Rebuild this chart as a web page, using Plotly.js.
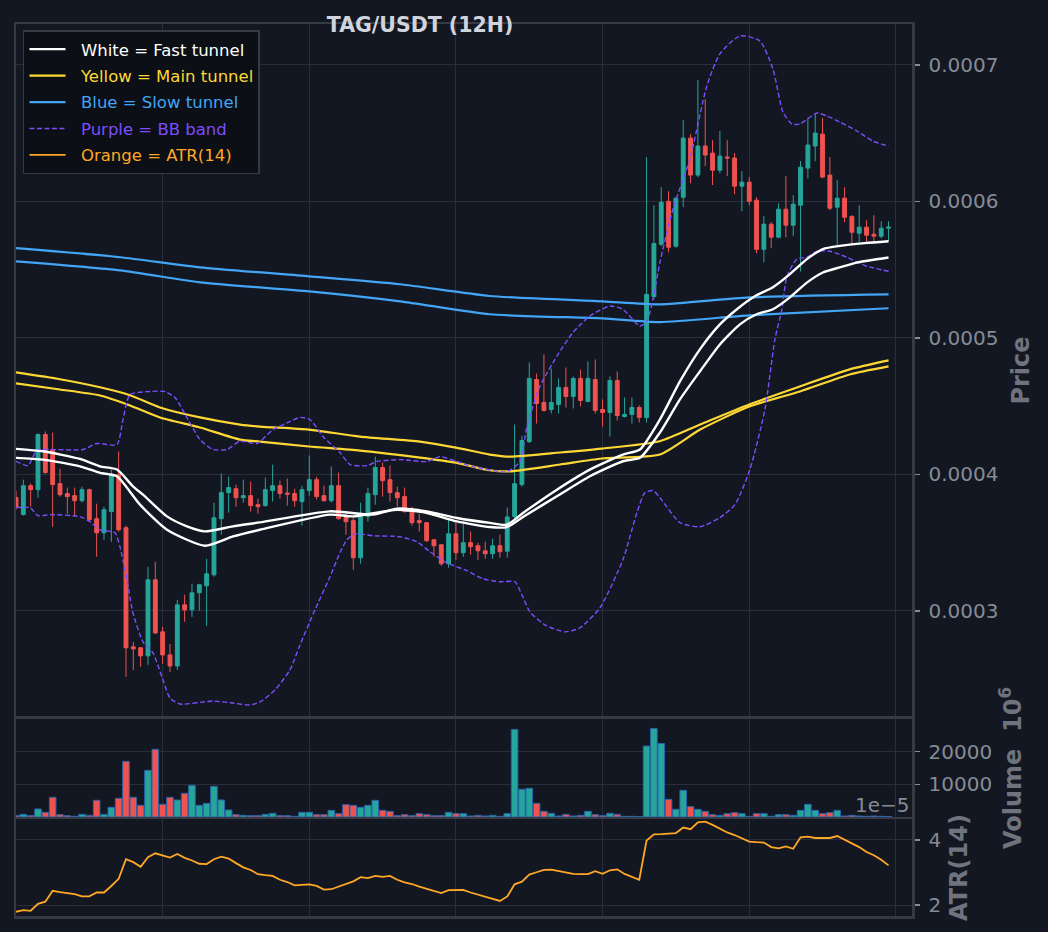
<!DOCTYPE html>
<html><head><meta charset="utf-8">
<script src="https://cdn.plot.ly/plotly-3.0.1.min.js"></script>
<style>html,body{margin:0;padding:0;background:#131722;}#chart{width:1048px;height:932px;}</style>
</head><body><div id="chart"></div>
<script>
// ---- candle data (index 0..119, 12H candles) ----
const candleIndex = Array.from({length:120}, (_, i) => i);
const open = [3.830e-4,3.706e-4,3.917e-4,3.888e-4,4.292e-4,4.182e-4,3.932e-4,3.859e-4,3.844e-4,3.807e-4,
3.888e-4,3.675e-4,3.572e-4,3.727e-4,3.998e-4,3.609e-4,2.736e-4,2.729e-4,2.670e-4,3.227e-4,
2.846e-4,2.677e-4,2.596e-4,3.044e-4,3.007e-4,3.132e-4,3.183e-4,3.264e-4,3.675e-4,3.866e-4,
3.895e-4,3.829e-4,3.844e-4,3.778e-4,3.771e-4,3.881e-4,3.917e-4,3.863e-4,3.859e-4,3.800e-4,
3.881e-4,3.961e-4,3.844e-4,3.807e-4,3.917e-4,3.683e-4,3.661e-4,3.389e-4,3.690e-4,3.851e-4,
4.050e-4,3.961e-4,3.866e-4,3.837e-4,3.734e-4,3.661e-4,3.646e-4,3.521e-4,3.484e-4,3.345e-4,
3.565e-4,3.426e-4,3.499e-4,3.477e-4,3.440e-4,3.418e-4,3.477e-4,3.437e-4,3.690e-4,3.925e-4,
4.240e-4,4.695e-4,4.527e-4,4.475e-4,4.512e-4,4.637e-4,4.571e-4,4.703e-4,4.534e-4,4.695e-4,
4.475e-4,4.453e-4,4.688e-4,4.424e-4,4.439e-4,4.490e-4,4.417e-4,5.303e-4,5.686e-4,6.001e-4,
5.672e-4,6.031e-4,6.464e-4,6.193e-4,6.406e-4,6.354e-4,6.229e-4,6.325e-4,6.318e-4,6.112e-4,
6.141e-4,6.009e-4,5.649e-4,5.833e-4,5.738e-4,5.943e-4,5.826e-4,5.972e-4,6.244e-4,6.406e-4,
6.493e-4,6.193e-4,5.958e-4,6.024e-4,5.890e-4,5.767e-4,5.811e-4,5.760e-4,5.745e-4,5.804e-4];
const high = [3.880e-4,3.961e-4,3.932e-4,4.300e-4,4.314e-4,4.306e-4,4.042e-4,3.903e-4,3.903e-4,3.910e-4,
3.895e-4,3.785e-4,3.763e-4,4.035e-4,4.167e-4,3.624e-4,2.772e-4,2.735e-4,3.322e-4,3.359e-4,
2.882e-4,2.757e-4,3.081e-4,3.118e-4,3.198e-4,3.198e-4,3.381e-4,3.792e-4,4.005e-4,3.983e-4,
3.925e-4,3.961e-4,3.947e-4,3.822e-4,3.976e-4,4.071e-4,3.954e-4,3.969e-4,3.895e-4,3.917e-4,
4.138e-4,3.983e-4,3.917e-4,4.057e-4,4.013e-4,3.705e-4,3.683e-4,3.793e-4,3.903e-4,4.130e-4,
4.086e-4,4.064e-4,3.910e-4,3.903e-4,3.763e-4,3.712e-4,3.650e-4,3.525e-4,3.488e-4,3.668e-4,
3.646e-4,3.653e-4,3.580e-4,3.499e-4,3.506e-4,3.528e-4,3.558e-4,3.756e-4,4.365e-4,4.284e-4,
4.820e-4,4.739e-4,4.879e-4,4.776e-4,4.703e-4,4.783e-4,4.717e-4,4.768e-4,4.827e-4,4.842e-4,
4.549e-4,4.717e-4,4.754e-4,4.563e-4,4.563e-4,4.505e-4,6.325e-4,5.972e-4,6.104e-4,6.075e-4,
6.031e-4,6.596e-4,6.493e-4,6.890e-4,6.750e-4,6.449e-4,6.516e-4,6.449e-4,6.354e-4,6.222e-4,
6.178e-4,6.031e-4,5.892e-4,5.848e-4,5.987e-4,6.185e-4,6.046e-4,6.295e-4,6.611e-4,6.640e-4,
6.611e-4,6.325e-4,6.156e-4,6.104e-4,5.899e-4,5.972e-4,5.862e-4,5.899e-4,5.855e-4,5.855e-4];
const low = [3.740e-4,3.697e-4,3.763e-4,3.829e-4,4.005e-4,3.616e-4,3.837e-4,3.712e-4,3.697e-4,3.793e-4,
3.653e-4,3.396e-4,3.521e-4,3.506e-4,3.580e-4,2.516e-4,2.567e-4,2.589e-4,2.604e-4,2.830e-4,
2.611e-4,2.552e-4,2.567e-4,2.919e-4,2.956e-4,3.000e-4,2.890e-4,3.250e-4,3.558e-4,3.719e-4,
3.763e-4,3.793e-4,3.727e-4,3.712e-4,3.763e-4,3.800e-4,3.822e-4,3.771e-4,3.763e-4,3.624e-4,
3.844e-4,3.815e-4,3.800e-4,3.793e-4,3.668e-4,3.558e-4,3.301e-4,3.345e-4,3.653e-4,3.778e-4,
3.837e-4,3.800e-4,3.763e-4,3.720e-4,3.624e-4,3.580e-4,3.506e-4,3.396e-4,3.330e-4,3.316e-4,
3.374e-4,3.396e-4,3.411e-4,3.374e-4,3.381e-4,3.381e-4,3.389e-4,3.389e-4,3.675e-4,3.910e-4,
4.230e-4,4.372e-4,4.460e-4,4.446e-4,4.446e-4,4.490e-4,4.483e-4,4.497e-4,4.527e-4,4.446e-4,
4.350e-4,4.277e-4,4.394e-4,4.417e-4,4.372e-4,4.380e-4,4.380e-4,5.282e-4,5.672e-4,5.627e-4,
5.660e-4,5.958e-4,6.134e-4,6.178e-4,6.259e-4,6.120e-4,6.207e-4,6.185e-4,6.053e-4,5.928e-4,
5.972e-4,5.620e-4,5.554e-4,5.657e-4,5.730e-4,5.738e-4,5.745e-4,5.486e-4,6.170e-4,6.295e-4,
6.170e-4,5.936e-4,5.677e-4,5.848e-4,5.686e-4,5.701e-4,5.694e-4,5.694e-4,5.730e-4,5.708e-4];
const close = [3.760e-4,3.917e-4,3.888e-4,4.292e-4,4.013e-4,3.925e-4,3.851e-4,3.837e-4,3.807e-4,3.888e-4,
3.668e-4,3.572e-4,3.741e-4,3.998e-4,3.594e-4,2.729e-4,2.721e-4,2.670e-4,3.227e-4,2.838e-4,
2.677e-4,2.596e-4,3.044e-4,3.007e-4,3.132e-4,3.191e-4,3.271e-4,3.682e-4,3.866e-4,3.903e-4,
3.829e-4,3.844e-4,3.771e-4,3.763e-4,3.888e-4,3.917e-4,3.859e-4,3.855e-4,3.807e-4,3.888e-4,
3.961e-4,3.837e-4,3.807e-4,3.917e-4,3.675e-4,3.653e-4,3.389e-4,3.690e-4,3.859e-4,4.050e-4,
3.954e-4,3.866e-4,3.829e-4,3.727e-4,3.646e-4,3.646e-4,3.514e-4,3.477e-4,3.345e-4,3.565e-4,
3.426e-4,3.499e-4,3.470e-4,3.440e-4,3.418e-4,3.477e-4,3.433e-4,3.688e-4,3.932e-4,4.248e-4,
4.703e-4,4.519e-4,4.468e-4,4.527e-4,4.637e-4,4.571e-4,4.703e-4,4.541e-4,4.703e-4,4.468e-4,
4.453e-4,4.688e-4,4.431e-4,4.439e-4,4.490e-4,4.417e-4,5.319e-4,5.692e-4,5.994e-4,5.664e-4,
6.024e-4,6.464e-4,6.193e-4,6.406e-4,6.340e-4,6.229e-4,6.332e-4,6.318e-4,6.112e-4,6.141e-4,
6.001e-4,5.649e-4,5.833e-4,5.738e-4,5.943e-4,5.826e-4,5.980e-4,6.251e-4,6.413e-4,6.501e-4,
6.178e-4,5.950e-4,6.024e-4,5.884e-4,5.774e-4,5.811e-4,5.752e-4,5.745e-4,5.804e-4,5.811e-4];

// volume, in units of 10^6 (as labelled on the axis)
const volumeE6 = [400,816,400,2450,1430,6020,714,400,200,816,
510,5100,816,2960,5710,17030,6020,3570,14280,20700,
3880,6020,5200,7240,9690,3570,4180,9380,5200,2140,
714,510,400,400,816,1120,400,400,200,1430,
1430,714,714,2040,1020,3770,3570,2960,3570,5100,
2040,1730,400,714,400,1020,714,400,400,1430,
1020,1020,300,510,300,510,200,1020,26800,8470,
8770,4180,1730,1120,300,816,300,510,1730,714,
400,1120,816,200,200,100,21700,27100,22500,5400,
2350,8160,3160,2350,1730,714,510,1020,1330,1020,
200,1020,1020,200,714,714,510,2040,3880,2040,
1020,1330,2040,300,510,300,200,300,200,150];

// ATR(14), in units of 1e-5 (as labelled on the axis)
const atrE5 = [1.80,1.85,1.83,2.04,2.11,2.44,2.40,2.37,2.34,2.27,
2.27,2.39,2.39,2.59,2.81,3.41,3.32,3.18,3.47,3.59,
3.53,3.46,3.57,3.45,3.37,3.27,3.26,3.41,3.49,3.43,
3.29,3.16,3.08,2.95,2.92,2.90,2.78,2.71,2.61,2.63,
2.64,2.59,2.48,2.49,2.57,2.65,2.73,2.86,2.83,2.90,
2.87,2.90,2.78,2.70,2.65,2.57,2.50,2.43,2.37,2.46,
2.47,2.47,2.39,2.32,2.26,2.19,2.13,2.27,2.64,2.72,
2.94,3.01,3.08,3.09,3.05,3.01,2.96,2.95,2.95,3.04,
2.96,3.07,3.10,2.96,2.88,2.78,3.98,4.17,4.18,4.19,
4.21,4.38,4.33,4.54,4.56,4.46,4.34,4.23,4.15,4.05,
3.95,3.93,3.92,3.78,3.74,3.80,3.73,4.08,4.10,4.06,
4.06,4.06,4.12,4.00,3.88,3.78,3.63,3.53,3.39,3.22];

// ---- tunnel lines (read at sample positions along the candle index) ----
const blueX = [0,14.2,25.1,40,52.4,64.6,80,87.8,100,119];
const blueUpper = [5.657e-4,5.591e-4,5.517e-4,5.451e-4,5.393e-4,5.307e-4,5.268e-4,5.246e-4,5.297e-4,5.319e-4];
const blueLower = [5.561e-4,5.495e-4,5.407e-4,5.341e-4,5.268e-4,5.173e-4,5.143e-4,5.116e-4,5.165e-4,5.217e-4];

const yellowX = [0,6,11.45,15.55,19.64,25.09,30.55,33.27,39.95,46.9,55.1,60,64.6,67.4,74.2,79.9,87.8,93.3,100,106.9,113.7,119];
const yellowUpper = [4.747e-4,4.697e-4,4.638e-4,4.580e-4,4.490e-4,4.417e-4,4.365e-4,4.350e-4,4.328e-4,4.277e-4,4.240e-4,4.196e-4,4.145e-4,4.130e-4,4.160e-4,4.189e-4,4.243e-4,4.365e-4,4.512e-4,4.644e-4,4.769e-4,4.835e-4];
const yellowLower = [4.666e-4,4.622e-4,4.578e-4,4.505e-4,4.417e-4,4.343e-4,4.255e-4,4.240e-4,4.204e-4,4.174e-4,4.123e-4,4.086e-4,4.030e-4,4.022e-4,4.072e-4,4.116e-4,4.145e-4,4.328e-4,4.497e-4,4.607e-4,4.732e-4,4.791e-4];

const whiteUpperX = [0,3.68,8.73,11.45,13.77,15.95,17.32,20.59,23.32,25.77,29.59,33.27,42.82,48.68,51.95,56.05,60.14,64.64,66.95,69.14,73.77,78.27,82.77,85.09,87.82,90.55,93.27,96.0,98.32,100.77,103.23,105.55,107.86,110.05,112.36,115.77,119];
const whiteUpper = [4.187e-4,4.169e-4,4.113e-4,4.059e-4,4.035e-4,3.912e-4,3.851e-4,3.692e-4,3.619e-4,3.582e-4,3.619e-4,3.648e-4,3.729e-4,3.705e-4,3.749e-4,3.729e-4,3.680e-4,3.644e-4,3.631e-4,3.717e-4,3.888e-4,4.035e-4,4.145e-4,4.182e-4,4.402e-4,4.681e-4,4.916e-4,5.099e-4,5.210e-4,5.305e-4,5.371e-4,5.467e-4,5.577e-4,5.651e-4,5.674e-4,5.694e-4,5.708e-4];
const whiteLowerX = [0,3.68,8.73,11.45,13.77,16.91,20.59,25.77,29.59,33.27,42.82,46.0,51.95,56.05,60.14,64.64,66.95,69.14,73.77,78.27,82.77,85.09,87.82,90.55,93.27,96.0,98.73,101.0,103.23,105.55,107.86,110.05,112.36,114.68,119];
const whiteLower = [4.121e-4,4.108e-4,4.059e-4,4.011e-4,3.986e-4,3.778e-4,3.594e-4,3.477e-4,3.545e-4,3.594e-4,3.705e-4,3.692e-4,3.741e-4,3.717e-4,3.655e-4,3.614e-4,3.614e-4,3.688e-4,3.839e-4,3.986e-4,4.096e-4,4.121e-4,4.306e-4,4.549e-4,4.754e-4,4.952e-4,5.099e-4,5.173e-4,5.210e-4,5.297e-4,5.405e-4,5.479e-4,5.517e-4,5.552e-4,5.589e-4];

// ---- Bollinger band ----
const bbUpperX = [0,1.64,2.86,4.64,9.14,11.05,13.77,14.59,15.55,18.27,20.32,21.68,23.46,25.09,26.86,28.77,30.55,32.86,35.05,37.36,38.73,40.09,41.86,44.18,45.55,47.86,49.23,52.36,56.05,57.82,60.14,62.32,66.96,68.73,69.68,71.46,73.77,75.96,78.27,81.0,82.77,85.09,86.05,86.87,87.82,89.59,91.91,94.23,96.0,98.73,101.45,103.23,104.6,105.82,106.91,109.23,110.59,112.36,114.68,116.86,119];
const bbUpper = [4.096e-4,4.064e-4,4.177e-4,4.182e-4,4.182e-4,4.226e-4,4.218e-4,4.402e-4,4.585e-4,4.607e-4,4.607e-4,4.563e-4,4.402e-4,4.255e-4,4.182e-4,4.182e-4,4.243e-4,4.226e-4,4.328e-4,4.387e-4,4.417e-4,4.402e-4,4.277e-4,4.160e-4,4.072e-4,4.064e-4,4.094e-4,4.108e-4,4.094e-4,4.130e-4,4.094e-4,4.057e-4,4.020e-4,4.096e-4,4.353e-4,4.646e-4,4.866e-4,5.040e-4,5.160e-4,5.233e-4,5.209e-4,5.087e-4,5.123e-4,5.283e-4,5.554e-4,5.943e-4,6.310e-4,6.848e-4,7.081e-4,7.213e-4,7.176e-4,6.971e-4,6.655e-4,6.567e-4,6.567e-4,6.648e-4,6.626e-4,6.582e-4,6.516e-4,6.442e-4,6.406e-4];
const bbLowerX = [0,1.91,3.0,4.64,8.73,10.09,11.45,13.5,14.18,15.14,15.95,17.32,18.68,20.05,21.0,22.36,26.86,29.59,31.91,33.27,35.32,37.36,38.73,40.77,42.82,44.18,45.14,46.23,48.68,52.36,54.68,56.45,58.77,61.5,63.68,66.0,68.05,69.0,70.09,72.14,74.86,76.91,79.64,82.77,84.68,85.77,86.87,87.82,90.55,93.27,96.0,98.05,100.09,102.14,103.5,104.45,105.14,106.5,107.86,109.23,111.0,113.32,116.05,119];
const bbLower = [3.756e-4,3.756e-4,3.697e-4,3.705e-4,3.690e-4,3.653e-4,3.594e-4,3.572e-4,3.470e-4,3.227e-4,2.985e-4,2.773e-4,2.692e-4,2.493e-4,2.361e-4,2.317e-4,2.339e-4,2.324e-4,2.310e-4,2.332e-4,2.420e-4,2.567e-4,2.750e-4,3.007e-4,3.249e-4,3.426e-4,3.521e-4,3.565e-4,3.550e-4,3.543e-4,3.506e-4,3.433e-4,3.352e-4,3.294e-4,3.235e-4,3.213e-4,3.213e-4,3.117e-4,2.993e-4,2.897e-4,2.846e-4,2.875e-4,3.022e-4,3.374e-4,3.719e-4,3.866e-4,3.881e-4,3.829e-4,3.646e-4,3.616e-4,3.683e-4,3.778e-4,4.035e-4,4.475e-4,4.989e-4,5.209e-4,5.451e-4,5.577e-4,5.591e-4,5.635e-4,5.635e-4,5.591e-4,5.525e-4,5.488e-4];

// ---- axis ticks ----
const priceTicks = [3e-4,4e-4,5e-4,6e-4,7e-4];
const priceTickText = ['0.0003','0.0004','0.0005','0.0006','0.0007'];
const volumeTicks = [10000,20000];
const volumeTickText = ['10000','20000'];
const atrTicks = [2,4];
const atrTickText = ['2','4'];
const gridX = [20,40,60,80,100,120];

// ---- styling ----
const TEAL = '#26a69a', RED = '#ef5350';
const WHITE = '#ffffff', YELLOW = '#fdd835', BLUE = '#42a5f5', PURPLE = '#7c4dff', ORANGE = '#ffa726';
const FONT = 'DejaVu Sans, Verdana, sans-serif';
const BG = '#131722', GRID = '#2a2e39', FRAME = '#363a45', TICKC = '#868b95', TITLEC = '#6e737d';

const volColors = candleIndex.map(i => close[i] >= open[i] ? TEAL : RED);

function legName(txt, col) { return '<span style="color:' + col + '">\u00a0\u00a0' + txt + '</span>'; }
function line(xs, ys, color, width, dash, grp, rank, label) {
  const t = {type:'scatter', mode:'lines', x:xs, y:ys, xaxis:'x', yaxis:'y',
    line:{color:color, width:width, dash:dash, shape:'spline', smoothing:0.6},
    showlegend:false, legendgroup:grp, hoverinfo:'skip', name:grp};
  if (label) { t.name = legName(label, color); t.showlegend = true; t.legendrank = rank; }
  return t;
}

const traces = [
  {type:'candlestick', x:candleIndex, open:open, high:high, low:low, close:close,
   xaxis:'x', yaxis:'y', whiskerwidth:0,
   increasing:{line:{color:TEAL, width:1}, fillcolor:TEAL},
   decreasing:{line:{color:RED, width:1}, fillcolor:RED},
   showlegend:false, hoverinfo:'skip', name:'candles'},
  line(blueX, blueUpper, BLUE, 2.2, 'solid', 'blue', 3, 'Blue = Slow tunnel'),
  line(blueX, blueLower, BLUE, 2.2, 'solid', 'blue'),
  line(yellowX, yellowUpper, YELLOW, 2.2, 'solid', 'yellow', 2, 'Yellow = Main tunnel'),
  line(yellowX, yellowLower, YELLOW, 2.2, 'solid', 'yellow'),
  line(bbUpperX, bbUpper, PURPLE, 1.4, '5px,2.5px', 'bb', 4, 'Purple = BB band'),
  line(bbLowerX, bbLower, PURPLE, 1.4, '5px,2.5px', 'bb'),
  line(whiteUpperX, whiteUpper, WHITE, 2.4, 'solid', 'white', 1, 'White = Fast tunnel'),
  line(whiteLowerX, whiteLower, WHITE, 2.4, 'solid', 'white'),
  {type:'bar', x:candleIndex, y:volumeE6, xaxis:'x2', yaxis:'y2', name:'volume',
   marker:{color:volColors, line:{color:'#2a64aa', width:1}}, showlegend:false, hoverinfo:'skip'},
  {type:'scatter', mode:'lines', x:candleIndex, y:atrE5, xaxis:'x3', yaxis:'y3',
   line:{color:ORANGE, width:1.8}, name:legName('Orange = ATR(14)', ORANGE), showlegend:true,
   legendgroup:'atr', legendrank:5, hoverinfo:'skip'}
];

const frame = {showline:true, mirror:true, linecolor:FRAME, linewidth:2.5};
const xcommon = Object.assign({range:[0,122.2], tickmode:'array', tickvals:gridX, showticklabels:false,
  ticks:'', showgrid:true, gridcolor:GRID, gridwidth:1, zeroline:false}, frame);
function ycommon(extra) {
  return Object.assign({side:'right', tickmode:'array', ticks:'outside', ticklen:5, tickwidth:1.5,
    tickcolor:TICKC, tickfont:{family:FONT, size:20, color:TICKC}, ticklabelstandoff:5,
    showgrid:true, gridcolor:GRID, gridwidth:1, zeroline:false}, frame, extra);
}
const axTitleFont = {family:FONT, size:24, color:TITLEC, weight:'bold'};

const layout = {
  width:1048, height:932,
  margin:{l:16, r:136, t:24, b:16},
  paper_bgcolor:BG, plot_bgcolor:BG,
  font:{family:FONT, color:TICKC},
  title:{text:'TAG/USDT (12H)', x:0.4008, xanchor:'center', y:0.9735, yanchor:'middle',
    font:{family:FONT, size:20.5, color:'#d1d4dc', weight:'bold'}},
  bargap:0.1,
  boxgap:0.25,
  showlegend:true,
  legend:{x:0.0078, y:0.9928, xanchor:'left', yanchor:'top', bgcolor:'#0c0f15',
    bordercolor:FRAME, borderwidth:1.5, font:{family:FONT, size:16.5, color:WHITE},
    itemwidth:36, tracegroupgap:2, traceorder:'grouped'},
  xaxis:Object.assign({}, xcommon, {domain:[0,1], anchor:'y', rangeslider:{visible:false}}),
  xaxis2:Object.assign({}, xcommon, {domain:[0,1], anchor:'y2', matches:'x'}),
  xaxis3:Object.assign({}, xcommon, {domain:[0,1], anchor:'y3', matches:'x'}),
  yaxis:ycommon({domain:[0.2231,1], range:[2.222e-4,7.30e-4], tickvals:priceTicks, ticktext:priceTickText,
    anchor:'x', title:{text:'Price', font:axTitleFont, standoff:15}}),
  yaxis2:ycommon({domain:[0.111,0.2209], range:[0,30000], tickvals:volumeTicks, ticktext:volumeTickText,
    anchor:'x2', title:{text:'Volume  10<sup>6</sup>', font:axTitleFont, standoff:13}}),
  yaxis3:ycommon({domain:[0,0.1087], range:[1.67,4.64], tickvals:atrTicks, ticktext:atrTickText,
    anchor:'x3', title:{text:'ATR(14)', font:axTitleFont, standoff:10}}),
  annotations:[{text:'1e\u22125', xref:'paper', yref:'paper', x:0.9995, y:0.1244,
    xanchor:'right', yanchor:'middle', showarrow:false, font:{family:FONT, size:20, color:TICKC}}]
};

Plotly.newPlot('chart', traces, layout, {staticPlot:true, displayModeBar:false});
</script>
</body></html>
